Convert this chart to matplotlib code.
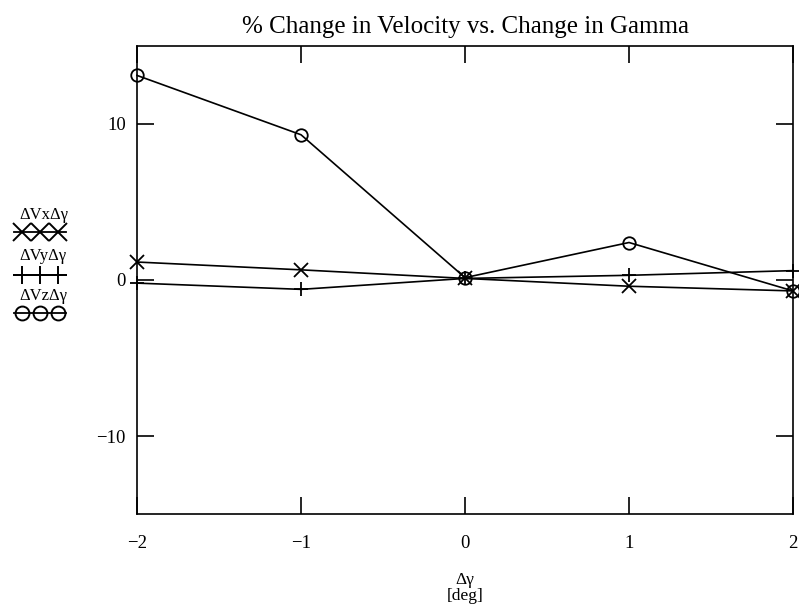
import matplotlib
matplotlib.use('Agg')
import matplotlib.pyplot as plt
from matplotlib.lines import Line2D

plt.rcParams['font.family'] = ['Liberation Serif', 'DejaVu Serif']
plt.rcParams['axes.unicode_minus'] = True

## data
dgamma = [-2, -1, 0, 1, 2]
dVx = [1.15, 0.65, 0.1, -0.4, -0.7]
dVy = [-0.2, -0.6, 0.1, 0.3, 0.6]
dVz = [13.1, 9.3, 0.15, 2.4, -0.7]
labels = ['\u0394Vx\u0394\u03b3', '\u0394Vy\u0394\u03b3', '\u0394Vz\u0394\u03b3']
markers = ['x', '+', 'o']

fig = plt.figure(figsize=(7.99, 6.10), dpi=100)
ax = fig.add_axes([0.1715, 0.157, 0.821, 0.768])

for yv, m in zip([dVx, dVy, dVz], markers):
    ax.plot(dgamma, yv, color='black', lw=1.2, marker=m, ms=10 if m != 'o' else 9,
            mfc='none', mec='black', mew=1.3, clip_on=False)

ax.set_xlim(-2, 2)
ax.set_ylim(-15, 15)
ax.set_xticks([-2, -1, 0, 1, 2])
ax.set_yticks([-10, 0, 10])
ax.tick_params(direction='in', length=12, width=1.2, top=True, right=True,
               labelsize=13.5)
ax.tick_params(axis='x', pad=15)
ax.tick_params(axis='y', pad=8)
for s in ax.spines.values():
    s.set_linewidth(1.2)

ax.set_title('% Change in Velocity vs. Change in Gamma', fontsize=18, pad=9)
ax.set_xlabel('\u0394\u03b3\n[deg]', fontsize=12.5, labelpad=14, linespacing=1.05)

## legend stacked to the left of the axes
rows = [(0.647, 0.619), (0.580, 0.549), (0.515, 0.487)]
for (ty, my), lab, m in zip(rows, labels, markers):
    fig.text(0.024, ty, lab, fontsize=12, va='center', ha='left')
    fig.add_artist(Line2D([0.018, 0.082], [my, my], transform=fig.transFigure,
                          color='black', lw=1.3))
    fig.add_artist(Line2D([0.028, 0.05, 0.072], [my] * 3, transform=fig.transFigure,
                          ls='none', marker=m, ms=13 if m != 'o' else 10,
                          mfc='none', mec='black', mew=1.4))

fig.savefig('out.png', dpi=100)
